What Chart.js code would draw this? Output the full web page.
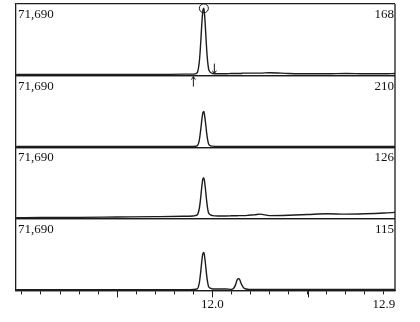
<!DOCTYPE html>
<html>
<head>
<meta charset="utf-8">
<script src="https://cdn.jsdelivr.net/npm/chart.js@4"></script>
<style>
  html, body { margin: 0; padding: 0; background: #fff; }
  #wrap { width: 420px; height: 322px; }
</style>
</head>
<body>
<div id="wrap"><canvas id="chromChart"></canvas></div>
<script>
// retention time (min)
const times = [10.97, 11.10, 11.30, 11.50, 11.70, 11.85, 11.90, 11.92, 11.93, 11.935,
  11.94, 11.945, 11.95, 11.955, 11.96, 11.965, 11.97, 11.975, 11.98, 11.99,
  12.00, 12.03, 12.07, 12.10, 12.11, 12.12, 12.13, 12.14, 12.15, 12.16,
  12.17, 12.19, 12.22, 12.25, 12.30, 12.40, 12.50, 12.60, 12.70, 12.80,
  12.90, 12.96];

// relative abundance (% of each panel's full scale)
const panel1 = [1.5, 1.5, 1.5, 1.5, 1.5, 2, 2, 4, 17, 32,
  53, 76, 91, 94, 80, 58, 35, 19, 9, 4.5,
  3, 2.5, 2.5, 3, 3, 3, 3, 3, 3, 3.5,
  3.5, 3.5, 3.5, 3.5, 4, 3, 2.5, 2.5, 3, 2.5,
  2.5, 3];
const panel2 = [1, 1, 1, 1, 1, 1, 1.2, 2, 8.5, 17,
  28, 40, 48.5, 50, 42, 31, 19, 10, 4.5, 2,
  1.5, 1.2, 1.2, 1.2, 1.2, 1.2, 1.2, 1.2, 1.2, 1.2,
  1.2, 1.2, 1.2, 1.2, 1.2, 1.2, 1.2, 1.2, 1.2, 1.2,
  1.2, 1.2];
const panel3 = [1.5, 1.8, 2, 2.5, 3, 3.5, 4, 5.5, 13, 22,
  34, 47, 56, 57, 49, 37, 24, 14, 8, 5.5,
  4.5, 4, 4, 4.2, 4.3, 4.3, 4.3, 4.5, 4.5, 4.5,
  4.5, 5, 5.5, 6.5, 4.5, 5, 6, 7, 6.5, 7,
  8, 9];
const panel4 = [1, 1, 1, 1, 1, 1, 1.2, 2, 9, 18,
  30, 43, 51.5, 53, 45, 33, 20, 11, 5, 3,
  2, 2, 2, 1.5, 2.5, 7, 15, 16.5, 10, 5,
  2.5, 1.5, 1.2, 1.2, 1.2, 1.2, 1.2, 1.2, 1.2, 1.2,
  1.2, 1.2];

const panelSeries = [panel1, panel2, panel3, panel4];
const panelIds = ['y1', 'y2', 'y3', 'y4'];
const massLabels = ['71,690', '71,690', '71,690', '71,690'];
const countLabels = ['168', '210', '126', '115'];

// x axis
const xMin = 10.969, xMax = 12.958;
const labelledTicks = [12.0, 12.9];
const labelledText = ['12.0', '12.9'];
const majorTicks = [11.5, 12.0, 12.5];

// markers on the top trace
const upArrowTimes = [11.90];
const downArrowTimes = [12.01];

const ink = '#1c1c1c';
const serif = '"Liberation Serif", "DejaVu Serif", serif';

const scales = {
  x: {
    type: 'linear',
    min: xMin,
    max: xMax,
    border: { display: true, color: ink, width: 1.3 },
    grid: { drawOnChartArea: false, drawTicks: true, tickLength: 4, color: ink, lineWidth: 1 },
    ticks: {
      stepSize: 0.1,
      includeBounds: false,
      autoSkip: false,
      maxRotation: 0,
      padding: 2,
      color: '#111',
      font: { family: serif, size: 13 },
      callback: (v) => {
        const k = labelledTicks.findIndex(t => Math.abs(t - v) < 1e-6);
        return k >= 0 ? labelledText[k] : '';
      }
    }
  }
};

// first panel on top: higher weight is placed higher in the stack
panelIds.forEach((id, i) => {
  scales[id] = {
    type: 'linear',
    position: 'left',
    stack: 'traces',
    stackWeight: 1,
    weight: panelIds.length - 1 - i,
    offset: false,
    min: 0,
    max: 100,
    border: { display: true, color: ink, width: 1.3 },
    grid: { drawOnChartArea: true, drawTicks: false, tickLength: 0, color: ink, lineWidth: 1.3 },
    ticks: { display: false, stepSize: 100 }
  };
});

const datasets = panelSeries.map((vals, i) => {
  const peak = Math.max(...vals);
  return {
    data: times.map((t, j) => ({ x: t, y: vals[j] })),
    yAxisID: panelIds[i],
    borderColor: ink,
    borderWidth: 1.4,
    cubicInterpolationMode: 'monotone',
    fill: false,
    pointStyle: 'circle',
    pointBackgroundColor: 'rgba(0,0,0,0)',
    pointBorderColor: ink,
    pointBorderWidth: 1,
    pointRadius: (ctx) => (i === 0 && ctx.raw && ctx.raw.y === peak) ? 4.5 : 0
  };
});

const decorations = {
  id: 'decorations',
  afterDraw(chart) {
    const ctx = chart.ctx;
    const area = chart.chartArea;
    const x = chart.scales.x;
    ctx.save();

    // right frame edge
    ctx.strokeStyle = ink;
    ctx.lineWidth = 1.3;
    ctx.beginPath();
    ctx.moveTo(area.right, area.top);
    ctx.lineTo(area.right, area.bottom);
    ctx.stroke();

    // longer ticks every 0.5 min
    ctx.lineWidth = 1;
    majorTicks.forEach(v => {
      const px = Math.round(x.getPixelForValue(v)) + 0.5;
      ctx.beginPath();
      ctx.moveTo(px, area.bottom);
      ctx.lineTo(px, area.bottom + 7);
      ctx.stroke();
    });

    // panel captions
    ctx.fillStyle = '#111';
    ctx.font = '13px ' + serif;
    ctx.textBaseline = 'alphabetic';
    panelIds.forEach((id, i) => {
      const s = chart.scales[id];
      ctx.textAlign = 'left';
      ctx.fillText(massLabels[i], area.left + 2, s.top + 14);
      ctx.textAlign = 'right';
      ctx.fillText(countLabels[i], area.right - 1, s.top + 14);
    });

    // integration markers on the top trace
    const y1 = chart.scales.y1;
    const base = y1.getPixelForValue(0);
    ctx.lineWidth = 1;
    upArrowTimes.forEach(t => {
      const px = x.getPixelForValue(t);
      ctx.beginPath();
      ctx.moveTo(px, base + 11);
      ctx.lineTo(px, base + 1);
      ctx.moveTo(px - 2, base + 4);
      ctx.lineTo(px, base + 1);
      ctx.lineTo(px + 2, base + 4);
      ctx.stroke();
    });
    downArrowTimes.forEach(t => {
      const px = x.getPixelForValue(t);
      ctx.beginPath();
      ctx.moveTo(px, base - 12);
      ctx.lineTo(px, base - 2);
      ctx.moveTo(px - 2, base - 5);
      ctx.lineTo(px, base - 2);
      ctx.lineTo(px + 2, base - 5);
      ctx.stroke();
    });
    ctx.restore();
  }
};

new Chart(document.getElementById('chromChart'), {
  type: 'line',
  data: { datasets },
  options: {
    responsive: true,
    maintainAspectRatio: false,
    animation: false,
    layout: { padding: { left: 16, right: 25, top: 4, bottom: 8 } },
    plugins: { legend: { display: false }, tooltip: { enabled: false } },
    scales
  },
  plugins: [decorations]
});
</script>
</body>
</html>
